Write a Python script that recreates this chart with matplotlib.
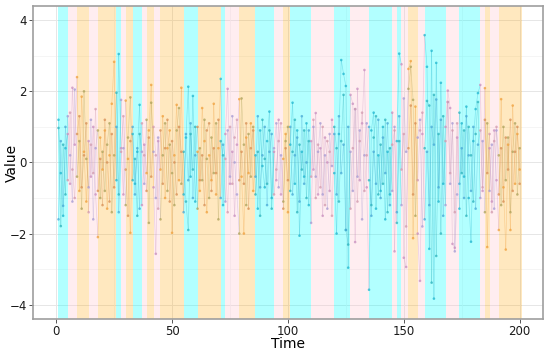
"""
Regime-shaded time series: three noisy series over 200 steps,
background bands mark the regime of each step.
"""

import matplotlib.pyplot as plt
import numpy as np
from matplotlib.collections import LineCollection
from matplotlib.patches import Rectangle

# regime bands: (start, end, regime)
band_start = [1, 5, 9, 14, 18, 26, 28, 30, 33, 37, 39, 42, 45, 55, 61, 71, 73, 79, 86, 94,
              98, 101, 110, 120, 127, 135, 145, 147, 149, 152, 156, 159, 168, 174, 183, 185,
              187, 191]
band_end = band_start[1:] + [201]
band_regime = ['c', 'p', 'o', 'p', 'o', 'c', 'p', 'o', 'c', 'p', 'o', 'p', 'o', 'c', 'o', 'c',
               'p', 'o', 'c', 'p', 'o', 'c', 'p', 'c', 'p', 'c', 'p', 'c', 'p', 'o', 'p', 'c',
               'p', 'c', 'p', 'o', 'p', 'o']

time = np.arange(1, 201)

series_a = [
    1.2, -0.3, -1.5, 0.4, 0.8, -0.6, 2.1, 0.5, 2.4, -0.8, 1.85, 0.3, -1.1, 0.6, -0.4, 1.0, -0.9, -2.1, 0.7, -0.2,
    0.9, -1.3, 0.2, 1.65, 2.83, -0.5, 3.05, 0.4, -0.9, 1.74, 0.1, -1.98, 0.8, -0.6, 0.3, 1.62, -1.2, 0.5, -0.3, 0.9,
    2.18, -0.7, -2.57, 0.6, -0.2, 1.3, -1.0, 0.4, 0.9, -1.98, 0.2, 1.62, -0.5, 2.1, -0.9, 0.7, 2.13, -0.4, 1.87, -1.1,
    0.3, -0.8, 1.53, 0.6, -1.4, 0.2, -0.5, 1.65, -0.9, 0.4, 2.35, -1.2, 0.8, 2.07, -0.6, 0.3, -1.5, 0.5, 1.78, -0.4,
    -2.0, 0.7, -0.3, 1.1, -0.8, 0.2, -1.3, 0.9, -0.1, -0.7, 0.6, 1.43, -1.0, 0.3, -0.5, 1.2, -0.9, 0.1, 0.8, -1.4,
    0.5, 1.68, -0.6, 0.9, -2.06, 0.3, -0.4, 1.1, -1.2, 0.6, -0.2, 1.39, -0.9, 0.4, -1.5, 0.7, 0.0, -0.8, 1.2, -0.3,
    -2.0, 0.8, 2.88, 2.49, 2.15, -2.96, 1.9, 1.65, -2.24, 2.07, -0.5, 1.1, 2.6, -0.7, -3.58, 0.9, 1.4, -1.3, 0.2, -0.8,
    1.0, -1.6, 0.3, -0.9, 1.4, -2.5, 0.6, 3.06, 2.76, -2.68, -2.94, 2.63, 2.85, -2.13, 1.57, -2.0, -3.33, 0.8, 3.58, 2.69,
    -2.43, 3.14, -3.83, 2.8, -1.1, 2.24, -0.6, 1.0, 2.02, 1.53, -2.29, -2.4, 0.7, -1.3, 1.1, -0.4, 1.57, -1.0, -2.23, 0.6,
    1.5, 1.95, 2.18, -0.8, 2.09, -2.38, 0.4, -1.1, 0.9, -0.5, -1.9, 1.78, -0.7, -2.45, 0.5, -1.9, 1.6, -0.6, 0.8, -0.2,
]
series_b = [
    0.97, -1.79, 0.5, -0.9, 1.3, 0.2, -1.1, 2.05, -0.4, 0.6, -1.3, 2.0, 0.1, -0.7, 1.2, -1.6, 0.4, 0.9, -1.0, 0.3,
    -0.8, 0.5, 1.1, -1.4, 0.2, 1.96, -0.9, 1.76, 0.4, -1.2, 0.7, 1.83, -0.5, 0.1, -1.5, 0.8, 0.3, -0.6, 1.2, -1.7,
    1.68, 0.3, -1.0, 0.7, -1.6, 0.2, 1.1, -0.8, 0.5, -0.3, -1.2, 0.9, 1.53, -0.6, 0.3, -1.1, -1.9, 0.8, -0.2, 1.0,
    -1.3, 0.4, -0.5, 1.2, 0.1, -1.0, 0.7, -0.3, 1.1, -1.6, 0.6, 0.2, -1.1, 0.9, -0.4, 1.3, 0.0, -0.9, -2.0, 1.8,
    0.5, -1.2, 0.8, -0.4, 1.0, -0.9, 0.3, -1.5, 1.2, 0.1, -0.6, 0.9, -1.3, 0.4, 1.1, -0.7, 0.2, -1.1, 0.6, 1.0,
    -0.8, 0.3, 1.2, -1.4, 0.5, -0.2, 0.9, -1.0, 0.6, -1.7, 1.0, -0.4, 0.3, 1.1, -0.9, 0.2, -1.3, 0.8, -0.1, 1.0,
    0.4, -1.1, 0.6, 1.9, -1.9, -2.31, 0.3, -0.8, 1.5, -0.4, 0.9, -1.6, 0.2, 1.1, -0.5, -1.2, 0.7, 1.3, -0.9, 0.5,
    -0.6, 1.2, -1.4, 0.4, -0.8, 1.0, -1.7, 0.6, -1.2, 1.8, 0.3, 2.07, 2.69, 1.76, -1.5, 0.7, 1.2, -1.8, 0.4, 1.73,
    1.6, -3.38, 1.9, -2.63, 0.8, -2.0, 1.3, -1.2, 1.7, -0.6, 1.1, -2.5, -0.9, 1.4, -0.3, 0.9, -1.5, 1.0, 0.2, -1.1,
    0.8, 1.7, -1.0, 0.6, -1.4, 1.1, -0.8, 0.5, -1.3, 0.9, 0.2, -1.2, 1.0, -0.5, 0.7, -1.4, 0.3, 1.1, -0.9, 0.4,
]
series_c = [
    -1.6, 0.6, -1.22, 1.0, -0.5, 1.4, -0.2, -1.0, 0.8, 1.3, -0.7, 0.2, 1.1, -1.4, 0.5, -0.3, 1.5, -0.8, 0.1, -1.2,
    1.2, 0.0, -1.1, 0.8, -0.7, 1.0, -1.4, 0.3, 1.3, -0.2, -1.5, 0.6, 1.0, -0.9, 0.4, -1.3, 1.1, 0.2, -0.8, 0.7,
    -0.4, 1.0, 0.2, -1.3, 0.9, -0.6, 0.4, 1.2, -1.1, 0.6, 0.0, -0.9, 1.0, 0.3, -1.4, 0.8, -0.5, 1.1, -1.0, 0.2,
    1.0, -0.5, 0.2, -1.2, 0.9, 1.1, -0.8, 0.4, -0.3, 1.2, -1.0, 0.5, 0.1, -1.4, 1.0, -0.6, 0.7, 1.2, -0.5, 0.3,
    -0.6, 1.1, -1.3, 0.4, 0.9, -0.4, 1.3, -0.7, 0.2, 1.0, -1.2, 0.3, 0.8, -0.9, -0.2, 0.6, 1.1, -1.3, 0.4, -0.5,
    1.0, -0.9, 0.2, 0.7, -1.1, 1.3, -0.6, 0.0, 0.9, -0.4, 1.2, -1.0, 0.5, -0.7, 1.0, -1.2, 0.6, 0.3, -1.5, 0.8,
    -0.9, 1.3, -0.3, 0.5, -1.9, 1.0, -1.3, 0.4, 1.5, -1.1, 0.6, 1.4, -0.8, 0.2, 1.0, -1.5, 0.3, -0.6, 1.2, -1.0,
    0.7, -0.3, 1.1, -1.2, 0.5, 0.9, -1.4, 1.3, -0.2, 0.8, -1.8, 0.4, 1.6, -0.9, 1.1, -0.5, 0.9, 1.4, -1.6, 0.3,
    -1.2, 1.0, 0.5, 1.77, -0.7, 1.2, -1.5, 0.6, 1.7, -0.3, 0.9, -1.4, 1.1, -0.6, 0.4, -1.0, 1.3, 0.2, -0.8, 1.0,
    -1.3, 0.5, 0.9, -0.7, 1.2, -0.3, 0.8, -1.4, 0.6, 1.0, -0.9, 0.4, -1.1, 0.7, -0.2, 1.2, -0.8, 0.3, 1.0, -0.6,
]

band_colors = {'c': (0.0, 1.0, 1.0, 0.30), 'p': (1.0, 0.75, 0.80, 0.28), 'o': (1.0, 0.65, 0.0, 0.25)}
# point colours per regime, one shade per series
point_colors = {
    'c': ['#1FB6CF', '#2DB3BD', '#48A9D6'],
    'p': ['#C98FBF', '#A79BD3', '#D39AAE'],
    'o': ['#F0A03C', '#AFA35C', '#D88F55'],
}

# regime for each time step
regime_of = {}
for s, e, r in zip(band_start, band_end, band_regime):
    for t in range(s, e):
        regime_of[t] = r
step_regime = [regime_of[t] for t in time]

fig, ax = plt.subplots(figsize=(5.5, 3.52), dpi=100)
fig.subplots_adjust(left=0.06, right=0.987, top=0.983, bottom=0.094)

ax.set_xlim(-10, 210)
ax.set_ylim(-4.4, 4.4)

# grid (ggplot theme_bw style)
for v in [-4, -2, 0, 2, 4]:
    ax.axhline(v, color='#E6E6E6', lw=0.7, zorder=0)
for v in [-3, -1, 1, 3]:
    ax.axhline(v, color='#F2F2F2', lw=0.5, zorder=0)
for v in [0, 50, 100, 150, 200]:
    ax.axvline(v, color='#E6E6E6', lw=0.7, zorder=0)
for v in [25, 75, 125, 175]:
    ax.axvline(v, color='#F2F2F2', lw=0.5, zorder=0)

for s, e, r in zip(band_start, band_end, band_regime):
    ax.add_patch(Rectangle((s, -10), e - s, 20, facecolor=band_colors[r],
                           edgecolor='none', zorder=1))

for k, vals in enumerate([series_a, series_b, series_c]):
    vals = np.asarray(vals)
    pts = np.column_stack([time, vals])
    segs = np.stack([pts[:-1], pts[1:]], axis=1)
    seg_cols = [point_colors[r][k] for r in step_regime[:-1]]
    lc = LineCollection(segs, colors=seg_cols, linewidths=0.5, alpha=0.35, zorder=2)
    ax.add_collection(lc)
    cols = [point_colors[r][k] for r in step_regime]
    ax.scatter(time, vals, s=3.5, c=cols, alpha=0.75, linewidths=0, zorder=3)

ax.set_xticks([0, 50, 100, 150, 200])
ax.set_yticks([-4, -2, 0, 2, 4])
ax.tick_params(axis='both', length=3, width=0.7, color='#555555',
               labelsize=8.5, labelcolor='#1A1A1A', pad=1.5)
for sp in ax.spines.values():
    sp.set_color('#9E9E9E')
    sp.set_linewidth(1.2)

fig.text(12 / 550, 1 - 163 / 352, 'Value', rotation=90, fontsize=10,
         ha='center', va='center')
fig.text(288 / 550, 1 - 344 / 352, 'Time', fontsize=10, ha='center', va='center')

fig.savefig('out.png', dpi=100, facecolor='white')
